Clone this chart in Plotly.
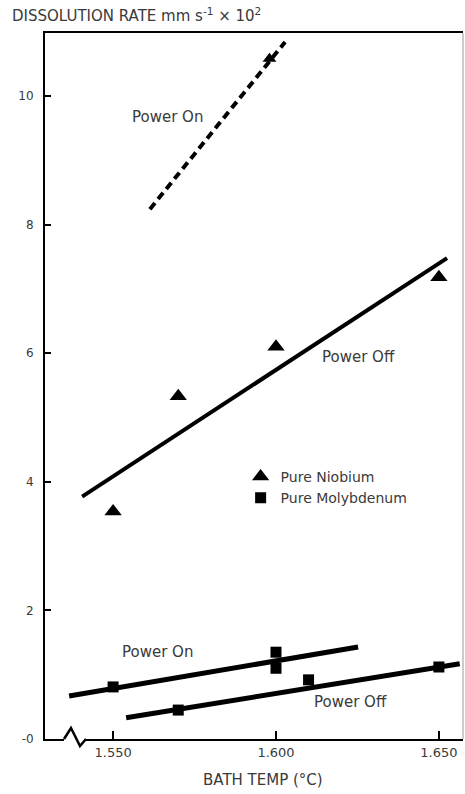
import plotly.graph_objects as go

# ---- data ----
nb_temp = [1550, 1570, 1600, 1650]
nb_rate = [3.54, 5.33, 6.10, 7.18]
nb_on_temp = [1598]
nb_on_rate = [10.58]
mo_temp = [1550, 1600, 1600, 1570, 1610, 1650]
mo_rate = [0.81, 1.35, 1.10, 0.45, 0.92, 1.12]

nb_off_fit_t = [1540.5, 1652.5]
nb_off_fit_v = [3.77, 7.48]
nb_on_fit_t = [1561.3, 1602.8]
nb_on_fit_v = [8.24, 10.84]
mo_on_fit_t = [1536.5, 1625.2]
mo_on_fit_v = [0.67, 1.43]
mo_off_fit_t = [1554.0, 1656.4]
mo_off_fit_v = [0.33, 1.17]

x_tickvals = [1550, 1600, 1650]
x_ticktext = ["1.550", "1.600", "1.650"]
y_tickvals = [0, 2, 4, 6, 8, 10]
y_ticktext = ["-0", "2", "4", "6", "8", "10"]

labels = ["Power On", "Power Off", "Power On", "Power Off"]
label_t = [1566.6, 1625.2, 1563.5, 1623.0]
label_v = [9.67, 5.94, 1.35, 0.58]

FONT = "DejaVu Sans"
TXT = "#3a3a3a"

fig = go.Figure()

# fitted lines
fig.add_trace(go.Scatter(x=nb_on_fit_t, y=nb_on_fit_v, mode="lines",
                         line=dict(color="black", width=4, dash="8px,5px"), showlegend=False))
fig.add_trace(go.Scatter(x=nb_off_fit_t, y=nb_off_fit_v, mode="lines",
                         line=dict(color="black", width=4), showlegend=False))
fig.add_trace(go.Scatter(x=mo_on_fit_t, y=mo_on_fit_v, mode="lines",
                         line=dict(color="black", width=5), showlegend=False))
fig.add_trace(go.Scatter(x=mo_off_fit_t, y=mo_off_fit_v, mode="lines",
                         line=dict(color="black", width=5), showlegend=False))

# points
fig.add_trace(go.Scatter(x=nb_temp, y=nb_rate, mode="markers", name="Pure Niobium",
                         marker=dict(symbol="triangle-up", size=15, color="black")))
fig.add_trace(go.Scatter(x=nb_on_temp, y=nb_on_rate, mode="markers", showlegend=False,
                         marker=dict(symbol="triangle-up", size=12, color="black")))
fig.add_trace(go.Scatter(x=mo_temp, y=mo_rate, mode="markers", name="Pure Molybdenum",
                         marker=dict(symbol="square", size=11, color="black")))

for txt, t, v in zip(labels, label_t, label_v):
    fig.add_annotation(x=t, y=v, text=txt, showarrow=False,
                       font=dict(family=FONT, size=15, color=TXT))

# axis titles as annotations
fig.add_annotation(xref="paper", yref="paper", x=-0.0837, y=1.0255, xanchor="left", yanchor="middle",
                   text="DISSOLUTION RATE mm s<sup>-1</sup> × 10<sup>2</sup>", showarrow=False,
                   font=dict(family=FONT, size=15, color=TXT))
fig.add_annotation(xref="paper", yref="paper", x=0.5215, y=-0.058, xanchor="center", yanchor="middle",
                   text="BATH TEMP (°C)", showarrow=False,
                   font=dict(family=FONT, size=15, color=TXT))

# axis break symbol and right border
W, H, L, B = 418.0, 706.0, 45.0, 739.0
def px(x):
    return (x - L) / W
def py(y):
    return (B - y) / H

fig.add_shape(type="line", xref="paper", yref="paper", x0=px(64), x1=px(86), y0=py(739), y1=py(739),
              line=dict(color="white", width=4), layer="above")
zz = [(64, 739), (71, 728), (80, 746), (86, 739)]
path = "M " + " L ".join(f"{px(a):.4f},{py(b):.4f}" for a, b in zz)
fig.add_shape(type="path", xref="paper", yref="paper", path=path,
              line=dict(color="black", width=2.5), layer="above")
fig.add_shape(type="line", xref="paper", yref="paper", x0=1, x1=1, y0=0, y1=1,
              line=dict(color="#999999", width=1), layer="above")

fig.update_layout(
    width=465, height=794,
    margin=dict(l=45, r=2, t=33, b=55),
    paper_bgcolor="white", plot_bgcolor="white",
    font=dict(family=FONT, size=13, color=TXT),
    showlegend=True,
    legend=dict(x=0.468, y=0.394, xanchor="left", yanchor="top",
                bgcolor="rgba(0,0,0,0)", font=dict(family=FONT, size=14, color=TXT),
                itemwidth=30, tracegroupgap=0),
    xaxis=dict(range=[1529.1, 1657.4], tickvals=x_tickvals, ticktext=x_ticktext,
               showgrid=False, zeroline=False, showline=True, linecolor="black", linewidth=2,
               mirror=True, ticks="inside", ticklen=8, tickwidth=2, tickcolor="black",
               automargin=False, tickfont=dict(family=FONT, size=13, color=TXT)),
    yaxis=dict(range=[0, 10.98], tickvals=y_tickvals, ticktext=y_ticktext,
               showgrid=False, zeroline=False, showline=True, linecolor="black", linewidth=2,
               ticks="inside", ticklen=6, tickwidth=2, tickcolor="black", ticklabelstandoff=7,
               automargin=False, tickfont=dict(family=FONT, size=12, color=TXT)),
)

fig.write_html("out.html", config={"displayModeBar": False},
               post_script="document.body.style.margin='0';")
